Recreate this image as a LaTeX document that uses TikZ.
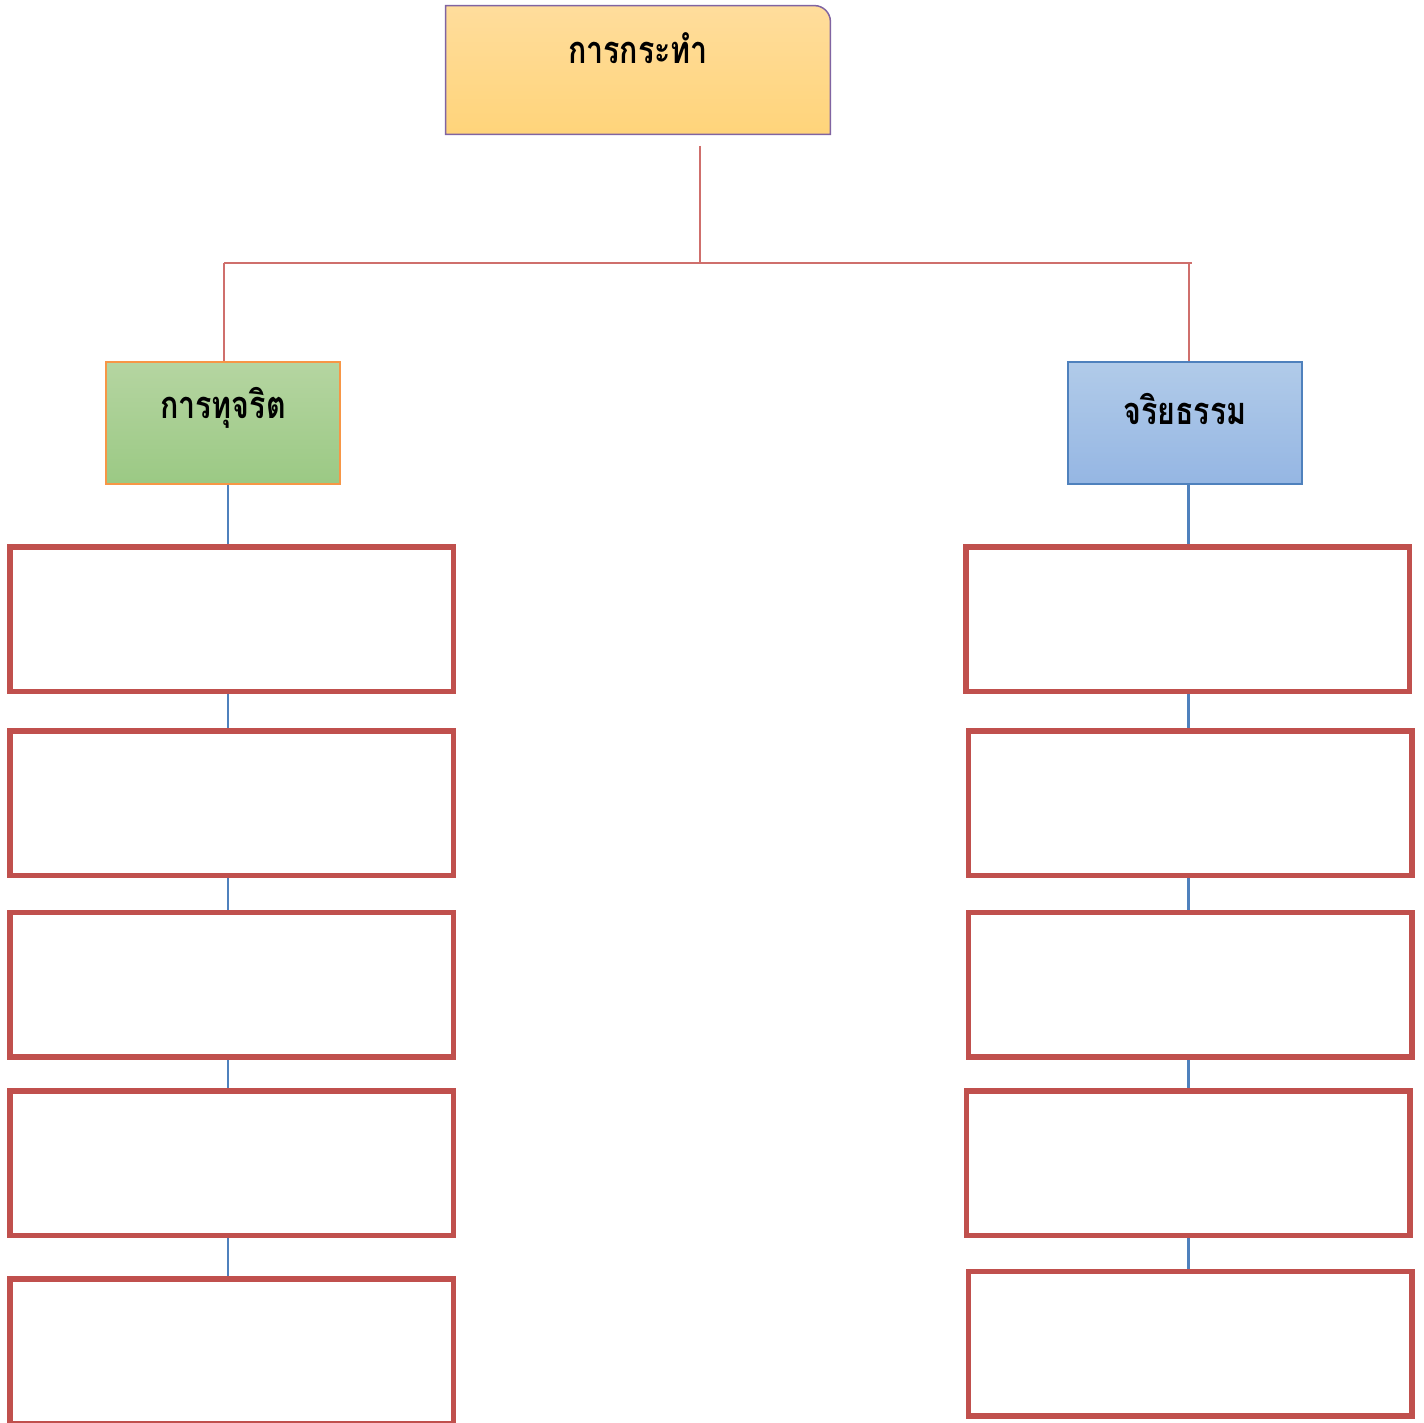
\documentclass[tikz,border=0pt]{standalone}
\usepackage{graphicx}
\usepackage{fontspec}
\newfontfamily\thaifont[Script=Thai]{Loma}
\definecolor{boxred}{HTML}{C0504D}
\definecolor{linered}{HTML}{CF6F6C}
\definecolor{lineblue}{HTML}{4F81BD}
\definecolor{topborder}{HTML}{8064A2}
\definecolor{greenborder}{HTML}{F79646}
\definecolor{blueborder}{HTML}{4F81BD}
\newcommand{\thlabel}[1]{\scalebox{0.8}[1]{#1}}
\tikzset{
  lbl/.style={font=\thaifont\bfseries\fontsize{19}{22}\selectfont, text=black, inner sep=0pt},
  headbox/.style={rectangle, line width=0.75pt, minimum width=117pt, minimum height=61pt, inner sep=0pt},
  greenbox/.style={headbox, draw=greenborder, top color={rgb,255:red,181;green,213;blue,161}, bottom color={rgb,255:red,155;green,201;blue,132}},
  bluebox/.style={headbox, draw=blueborder, top color={rgb,255:red,177;green,203;blue,233}, bottom color={rgb,255:red,149;green,182;blue,227}},
  itembox/.style={rectangle, draw=boxred, line width=2.75pt, minimum width=221.75pt, minimum height=72.25pt, inner sep=0pt, fill=white},
  redline/.style={draw=linered, line width=0.75pt},
  blueline/.style={draw=lineblue, line width=1.1pt},
}
\begin{document}
\begin{tikzpicture}[x=0.5pt,y=-0.5pt]
\useasboundingbox (0,0) rectangle (1424,1423);
\fill[white] (0,0) rectangle (1424,1423);
% top box
\node[rectangle, minimum width=192pt, minimum height=64pt, inner sep=0pt] (act) at (638,70) {};
\path[draw=topborder, line width=0.75pt, top color={rgb,255:red,255;green,221;blue,156}, bottom color={rgb,255:red,255;green,212;blue,122}]
  (act.south west) -- (act.north west) -- ([xshift=-8pt]act.north east)
  arc[start angle=90, end angle=0, radius=8pt] -- (act.south east) -- cycle;
\node[lbl] (actl) at (638,48) {\thlabel{การกระทำ}};
% second level
\node[greenbox] (corr) at (223,423) {};
\node[lbl] (corrl) at (223,408) {\thlabel{การทุจริต}};
\node[bluebox] (eth) at (1185,423) {};
\node[lbl] (ethl) at (1185,409) {\thlabel{จริยธรรม}};
% red connectors
\coordinate (hub) at (700,146);
\coordinate (jn) at (700,263);
\coordinate (hl) at (224,263);
\coordinate (hr) at (1192,263);
\coordinate (rv) at (1189,263);
\draw[redline] (hub) -- (jn);
\draw[redline] (hl) -- (hr);
\draw[redline] (hl) -- (hl |- corr.north);
\draw[redline] (rv) -- (rv |- eth.north);
% item boxes
\node[itembox] (l1) at (231.5,619) {};
\node[itembox] (l2) at (231.5,803) {};
\node[itembox] (l3) at (231.5,984.5) {};
\node[itembox] (l4) at (231.5,1163) {};
\node[itembox] (l5) at (231.5,1351) {};
\node[itembox] (r1) at (1187.5,619) {};
\node[itembox] (r2) at (1190,803) {};
\node[itembox] (r3) at (1190,984.5) {};
\node[itembox] (r4) at (1188,1163) {};
\node[itembox] (r5) at (1190,1343.5) {};
% blue connectors
\coordinate (lx) at (228,0);
\coordinate (rx) at (1188.5,0);
\draw[blueline] (corr.south -| lx) -- (l1.north -| lx);
\draw[blueline] (l1.south -| lx) -- (l2.north -| lx);
\draw[blueline] (l2.south -| lx) -- (l3.north -| lx);
\draw[blueline] (l3.south -| lx) -- (l4.north -| lx);
\draw[blueline] (l4.south -| lx) -- (l5.north -| lx);
\draw[blueline] (eth.south -| rx) -- (r1.north -| rx);
\draw[blueline] (r1.south -| rx) -- (r2.north -| rx);
\draw[blueline] (r2.south -| rx) -- (r3.north -| rx);
\draw[blueline] (r3.south -| rx) -- (r4.north -| rx);
\draw[blueline] (r4.south -| rx) -- (r5.north -| rx);
\end{tikzpicture}
\end{document}
